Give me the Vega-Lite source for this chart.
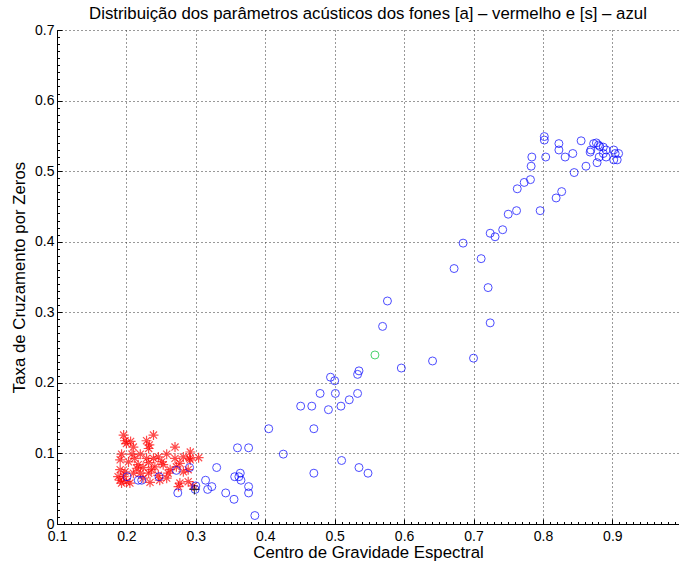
{
  "$schema": "https://vega.github.io/schema/vega-lite/v6.json",
  "width": 622,
  "height": 494,
  "autosize": {"type": "none"},
  "padding": {"left": 57, "top": 30, "right": 0, "bottom": 40},
  "background": "white",
  "title": {
    "text": "Distribuição dos parâmetros acústicos dos fones [a] – vermelho e [s] – azul",
    "font": "Liberation Sans",
    "fontSize": 16.8,
    "fontWeight": "normal",
    "color": "black",
    "anchor": "middle",
    "offset": 0
  },
  "config": {
    "view": {"stroke": null},
    "font": "Liberation Sans"
  },
  "datasets": {
    "fones": [
      {"x": 0.196, "y": 0.126, "grupo": "a"}, {"x": 0.239, "y": 0.126, "grupo": "a"},
      {"x": 0.198, "y": 0.118, "grupo": "a"}, {"x": 0.200, "y": 0.114, "grupo": "a"},
      {"x": 0.206, "y": 0.117, "grupo": "a"}, {"x": 0.210, "y": 0.109, "grupo": "a"},
      {"x": 0.229, "y": 0.118, "grupo": "a"}, {"x": 0.233, "y": 0.112, "grupo": "a"},
      {"x": 0.232, "y": 0.107, "grupo": "a"}, {"x": 0.270, "y": 0.109, "grupo": "a"},
      {"x": 0.292, "y": 0.102, "grupo": "a"}, {"x": 0.193, "y": 0.099, "grupo": "a"},
      {"x": 0.208, "y": 0.099, "grupo": "a"}, {"x": 0.220, "y": 0.099, "grupo": "a"},
      {"x": 0.212, "y": 0.093, "grupo": "a"}, {"x": 0.229, "y": 0.093, "grupo": "a"},
      {"x": 0.239, "y": 0.093, "grupo": "a"}, {"x": 0.246, "y": 0.095, "grupo": "a"},
      {"x": 0.258, "y": 0.099, "grupo": "a"}, {"x": 0.270, "y": 0.093, "grupo": "a"},
      {"x": 0.282, "y": 0.095, "grupo": "a"}, {"x": 0.291, "y": 0.093, "grupo": "a"},
      {"x": 0.304, "y": 0.094, "grupo": "a"}, {"x": 0.191, "y": 0.091, "grupo": "a"},
      {"x": 0.203, "y": 0.088, "grupo": "a"}, {"x": 0.217, "y": 0.084, "grupo": "a"},
      {"x": 0.224, "y": 0.080, "grupo": "a"}, {"x": 0.232, "y": 0.087, "grupo": "a"},
      {"x": 0.236, "y": 0.077, "grupo": "a"}, {"x": 0.241, "y": 0.081, "grupo": "a"},
      {"x": 0.251, "y": 0.088, "grupo": "a"}, {"x": 0.253, "y": 0.084, "grupo": "a"},
      {"x": 0.263, "y": 0.077, "grupo": "a"}, {"x": 0.272, "y": 0.081, "grupo": "a"},
      {"x": 0.277, "y": 0.086, "grupo": "a"}, {"x": 0.282, "y": 0.074, "grupo": "a"},
      {"x": 0.289, "y": 0.077, "grupo": "a"}, {"x": 0.188, "y": 0.067, "grupo": "a"},
      {"x": 0.191, "y": 0.062, "grupo": "a"}, {"x": 0.193, "y": 0.058, "grupo": "a"},
      {"x": 0.200, "y": 0.060, "grupo": "a"}, {"x": 0.205, "y": 0.058, "grupo": "a"},
      {"x": 0.234, "y": 0.059, "grupo": "a"}, {"x": 0.246, "y": 0.069, "grupo": "a"},
      {"x": 0.248, "y": 0.062, "grupo": "a"}, {"x": 0.260, "y": 0.072, "grupo": "a"},
      {"x": 0.277, "y": 0.058, "grupo": "a"}, {"x": 0.289, "y": 0.060, "grupo": "a"},
      {"x": 0.275, "y": 0.053, "grupo": "a"}, {"x": 0.296, "y": 0.054, "grupo": "a"},
      {"x": 0.191, "y": 0.077, "grupo": "a"}, {"x": 0.198, "y": 0.074, "grupo": "a"},
      {"x": 0.210, "y": 0.072, "grupo": "a"}, {"x": 0.220, "y": 0.072, "grupo": "a"},
      {"x": 0.224, "y": 0.065, "grupo": "a"}, {"x": 0.232, "y": 0.072, "grupo": "a"},
      {"x": 0.258, "y": 0.065, "grupo": "a"}, {"x": 0.196, "y": 0.067, "grupo": "a"},
      {"x": 0.215, "y": 0.079, "grupo": "a"}, {"x": 0.292, "y": 0.091, "grupo": "a"},

      {"x": 0.201, "y": 0.067, "grupo": "s"}, {"x": 0.217, "y": 0.062, "grupo": "s"},
      {"x": 0.222, "y": 0.062, "grupo": "s"}, {"x": 0.247, "y": 0.067, "grupo": "s"},
      {"x": 0.272, "y": 0.076, "grupo": "s"}, {"x": 0.291, "y": 0.080, "grupo": "s"},
      {"x": 0.330, "y": 0.080, "grupo": "s"}, {"x": 0.274, "y": 0.044, "grupo": "s"},
      {"x": 0.300, "y": 0.054, "grupo": "s"}, {"x": 0.299, "y": 0.049, "grupo": "s"},
      {"x": 0.314, "y": 0.062, "grupo": "s"}, {"x": 0.317, "y": 0.049, "grupo": "s"},
      {"x": 0.323, "y": 0.053, "grupo": "s"}, {"x": 0.343, "y": 0.044, "grupo": "s"},
      {"x": 0.355, "y": 0.035, "grupo": "s"}, {"x": 0.356, "y": 0.067, "grupo": "s"},
      {"x": 0.362, "y": 0.067, "grupo": "s"}, {"x": 0.364, "y": 0.072, "grupo": "s"},
      {"x": 0.365, "y": 0.062, "grupo": "s"}, {"x": 0.376, "y": 0.053, "grupo": "s"},
      {"x": 0.376, "y": 0.044, "grupo": "s"}, {"x": 0.385, "y": 0.012, "grupo": "s"},
      {"x": 0.360, "y": 0.108, "grupo": "s"}, {"x": 0.376, "y": 0.108, "grupo": "s"},
      {"x": 0.405, "y": 0.135, "grupo": "s"}, {"x": 0.470, "y": 0.135, "grupo": "s"},
      {"x": 0.426, "y": 0.099, "grupo": "s"}, {"x": 0.470, "y": 0.072, "grupo": "s"},
      {"x": 0.510, "y": 0.090, "grupo": "s"}, {"x": 0.535, "y": 0.080, "grupo": "s"},
      {"x": 0.548, "y": 0.072, "grupo": "s"}, {"x": 0.451, "y": 0.167, "grupo": "s"},
      {"x": 0.467, "y": 0.167, "grupo": "s"}, {"x": 0.479, "y": 0.185, "grupo": "s"},
      {"x": 0.491, "y": 0.162, "grupo": "s"}, {"x": 0.501, "y": 0.185, "grupo": "s"},
      {"x": 0.509, "y": 0.167, "grupo": "s"}, {"x": 0.521, "y": 0.176, "grupo": "s"},
      {"x": 0.533, "y": 0.185, "grupo": "s"}, {"x": 0.500, "y": 0.203, "grupo": "s"},
      {"x": 0.494, "y": 0.208, "grupo": "s"}, {"x": 0.535, "y": 0.217, "grupo": "s"},
      {"x": 0.533, "y": 0.212, "grupo": "s"}, {"x": 0.576, "y": 0.316, "grupo": "s"},
      {"x": 0.569, "y": 0.280, "grupo": "s"}, {"x": 0.596, "y": 0.221, "grupo": "s"},
      {"x": 0.641, "y": 0.231, "grupo": "s"}, {"x": 0.700, "y": 0.235, "grupo": "s"},
      {"x": 0.672, "y": 0.362, "grupo": "s"}, {"x": 0.724, "y": 0.285, "grupo": "s"},
      {"x": 0.721, "y": 0.335, "grupo": "s"}, {"x": 0.711, "y": 0.376, "grupo": "s"},
      {"x": 0.685, "y": 0.398, "grupo": "s"}, {"x": 0.724, "y": 0.412, "grupo": "s"},
      {"x": 0.731, "y": 0.407, "grupo": "s"}, {"x": 0.742, "y": 0.417, "grupo": "s"},
      {"x": 0.750, "y": 0.439, "grupo": "s"}, {"x": 0.762, "y": 0.444, "grupo": "s"},
      {"x": 0.796, "y": 0.444, "grupo": "s"}, {"x": 0.819, "y": 0.462, "grupo": "s"},
      {"x": 0.827, "y": 0.471, "grupo": "s"}, {"x": 0.763, "y": 0.475, "grupo": "s"},
      {"x": 0.773, "y": 0.484, "grupo": "s"}, {"x": 0.782, "y": 0.488, "grupo": "s"},
      {"x": 0.783, "y": 0.507, "grupo": "s"}, {"x": 0.784, "y": 0.520, "grupo": "s"},
      {"x": 0.804, "y": 0.520, "grupo": "s"}, {"x": 0.802, "y": 0.549, "grupo": "s"},
      {"x": 0.802, "y": 0.544, "grupo": "s"}, {"x": 0.823, "y": 0.539, "grupo": "s"},
      {"x": 0.823, "y": 0.530, "grupo": "s"}, {"x": 0.832, "y": 0.520, "grupo": "s"},
      {"x": 0.843, "y": 0.525, "grupo": "s"}, {"x": 0.855, "y": 0.543, "grupo": "s"},
      {"x": 0.845, "y": 0.498, "grupo": "s"}, {"x": 0.862, "y": 0.507, "grupo": "s"},
      {"x": 0.878, "y": 0.512, "grupo": "s"}, {"x": 0.869, "y": 0.530, "grupo": "s"},
      {"x": 0.873, "y": 0.539, "grupo": "s"}, {"x": 0.877, "y": 0.540, "grupo": "s"},
      {"x": 0.880, "y": 0.537, "grupo": "s"}, {"x": 0.882, "y": 0.535, "grupo": "s"},
      {"x": 0.887, "y": 0.534, "grupo": "s"}, {"x": 0.891, "y": 0.530, "grupo": "s"},
      {"x": 0.887, "y": 0.525, "grupo": "s"}, {"x": 0.881, "y": 0.520, "grupo": "s"},
      {"x": 0.891, "y": 0.520, "grupo": "s"}, {"x": 0.902, "y": 0.530, "grupo": "s"},
      {"x": 0.904, "y": 0.525, "grupo": "s"}, {"x": 0.909, "y": 0.525, "grupo": "s"},
      {"x": 0.902, "y": 0.516, "grupo": "s"}, {"x": 0.907, "y": 0.516, "grupo": "s"},
      {"x": 0.868, "y": 0.527, "grupo": "s"},

      {"x": 0.558, "y": 0.2395, "grupo": "destaque"},
      {"x": 0.298, "y": 0.049, "grupo": "referencia"}
    ]
  },
  "layer": [
    {
      "data": {"name": "fones"},
      "transform": [{"filter": "datum.grupo === 'a'"}],
      "mark": {
        "type": "point",
        "shape": "M-1,0L1,0M0,-1L0,1M-0.71,-0.71L0.71,0.71M-0.71,0.71L0.71,-0.71",
        "filled": false,
        "stroke": "#FF0000",
        "strokeWidth": 1.2,
        "size": 100
      },
      "encoding": {
        "x": {
          "field": "x", "type": "quantitative",
          "scale": {"domain": [0.1, 0.996], "nice": false, "zero": false},
          "axis": {
            "orient": "bottom",
            "values": [0.1, 0.2, 0.3, 0.4, 0.5, 0.6, 0.7, 0.8, 0.9],
            "format": "~g",
            "grid": true, "gridColor": "#333", "gridDash": [1, 3], "gridWidth": 1,
            "domainColor": "black", "domainWidth": 1,
            "tickColor": "black", "tickSize": -5, "tickWidth": 1,
            "labelFont": "Liberation Sans", "labelFontSize": 14, "labelColor": "black",
            "labelPadding": 10, "labelFlush": false,
            "title": "Centro de Gravidade Espectral",
            "titleFont": "Liberation Sans", "titleFontSize": 16.8, "titleFontWeight": "normal",
            "titleColor": "black", "titlePadding": 1
          }
        },
        "y": {
          "field": "y", "type": "quantitative",
          "scale": {"domain": [0, 0.7], "nice": false, "zero": false},
          "axis": {
            "orient": "left",
            "values": [0, 0.1, 0.2, 0.3, 0.4, 0.5, 0.6, 0.7],
            "format": "~g",
            "grid": true, "gridColor": "#333", "gridDash": [1, 3], "gridWidth": 1,
            "domainColor": "black", "domainWidth": 1,
            "tickColor": "black", "tickSize": -5, "tickWidth": 1,
            "labelFont": "Liberation Sans", "labelFontSize": 14, "labelColor": "black",
            "labelPadding": 8, "labelFlush": false,
            "title": "Taxa de Cruzamento por Zeros",
            "titleFont": "Liberation Sans", "titleFontSize": 16.8, "titleFontWeight": "normal",
            "titleColor": "black", "titlePadding": 6
          }
        }
      }
    },
    {
      "data": {"name": "fones"},
      "transform": [{"filter": "datum.grupo === 's'"}],
      "mark": {
        "type": "point",
        "shape": "circle",
        "filled": false,
        "stroke": "#0000FF",
        "strokeWidth": 1,
        "size": 64
      },
      "encoding": {
        "x": {
          "field": "x", "type": "quantitative",
          "axis": {
            "orient": "bottom",
            "values": [0.1,0.11,0.12,0.13,0.14,0.15,0.16,0.17,0.18,0.19,0.2,0.21,0.22,0.23,0.24,0.25,0.26,0.27,0.28,0.29,0.3,0.31,0.32,0.33,0.34,0.35,0.36,0.37,0.38,0.39,0.4,0.41,0.42,0.43,0.44,0.45,0.46,0.47,0.48,0.49,0.5,0.51,0.52,0.53,0.54,0.55,0.56,0.57,0.58,0.59,0.6,0.61,0.62,0.63,0.64,0.65,0.66,0.67,0.68,0.69,0.7,0.71,0.72,0.73,0.74,0.75,0.76,0.77,0.78,0.79,0.8,0.81,0.82,0.83,0.84,0.85,0.86,0.87,0.88,0.89,0.9,0.91,0.92,0.93,0.94,0.95,0.96,0.97,0.98,0.99],
            "labels": false, "domain": false, "grid": false,
            "tickColor": "black", "tickSize": -2.5, "tickWidth": 1,
            "title": null
          }
        },
        "y": {
          "field": "y", "type": "quantitative",
          "axis": {
            "orient": "left",
            "values": [0,0.01,0.02,0.03,0.04,0.05,0.06,0.07,0.08,0.09,0.1,0.11,0.12,0.13,0.14,0.15,0.16,0.17,0.18,0.19,0.2,0.21,0.22,0.23,0.24,0.25,0.26,0.27,0.28,0.29,0.3,0.31,0.32,0.33,0.34,0.35,0.36,0.37,0.38,0.39,0.4,0.41,0.42,0.43,0.44,0.45,0.46,0.47,0.48,0.49,0.5,0.51,0.52,0.53,0.54,0.55,0.56,0.57,0.58,0.59,0.6,0.61,0.62,0.63,0.64,0.65,0.66,0.67,0.68,0.69,0.7],
            "labels": false, "domain": false, "grid": false,
            "tickColor": "black", "tickSize": -2.5, "tickWidth": 1,
            "title": null
          }
        }
      }
    },
    {
      "data": {"name": "fones"},
      "transform": [{"filter": "datum.grupo === 'destaque'"}],
      "mark": {
        "type": "point",
        "shape": "circle",
        "filled": false,
        "stroke": "#00C030",
        "strokeWidth": 1,
        "size": 64
      },
      "encoding": {
        "x": {"field": "x", "type": "quantitative", "axis": null},
        "y": {"field": "y", "type": "quantitative", "axis": null}
      }
    },
    {
      "data": {"name": "fones"},
      "transform": [{"filter": "datum.grupo === 'referencia'"}],
      "mark": {
        "type": "point",
        "shape": "M-1,0L1,0M0,-1L0,1",
        "filled": false,
        "stroke": "black",
        "strokeWidth": 1.2,
        "size": 100
      },
      "encoding": {
        "x": {"field": "x", "type": "quantitative", "axis": null},
        "y": {"field": "y", "type": "quantitative", "axis": null}
      }
    }
  ],
  "resolve": {"axis": {"x": "independent", "y": "independent"}}
}
